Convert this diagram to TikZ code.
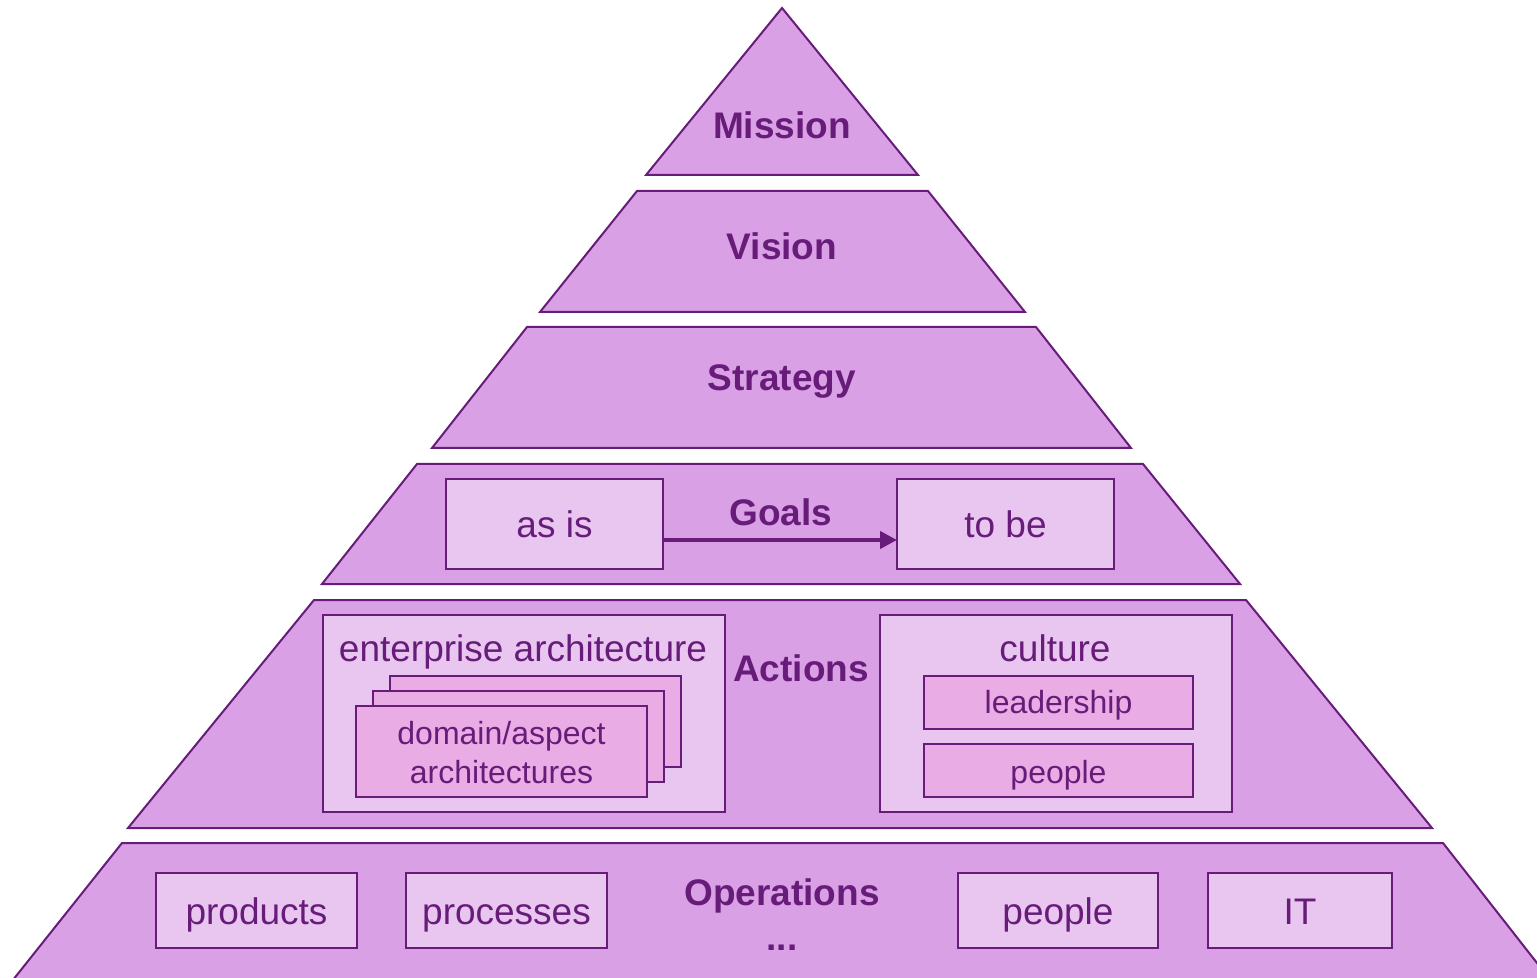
\documentclass[tikz,border=0pt]{standalone}
\usepackage{fontspec}
\setmainfont{Liberation Sans}
\usetikzlibrary{arrows.meta}
\definecolor{layerfill}{RGB}{217,160,230}
\definecolor{innerfill}{RGB}{232,198,240}
\definecolor{subfill}{RGB}{233,172,228}
\definecolor{ink}{RGB}{104,28,122}
\begin{document}
\begin{tikzpicture}[x=0.5pt,y=-0.5pt,
  layer/.style={draw=ink, fill=layerfill, line width=1pt, line join=miter},
  ibox/.style={draw=ink, fill=innerfill, line width=1pt, inner sep=0pt},
  sbox/.style={draw=ink, fill=subfill, line width=1pt, inner sep=0pt},
  title/.style={text=ink, font=\bfseries\fontsize{18.5}{22}\selectfont, anchor=base, inner sep=0pt},
  lbl/.style={text=ink, font=\fontsize{18.5}{22}\selectfont, anchor=base, inner sep=0pt},
  slbl/.style={text=ink, font=\fontsize{16}{19}\selectfont, anchor=base, inner sep=0pt}]
\useasboundingbox (0,0) rectangle (1537,978);
\clip (0,0) rectangle (1537,978);

% layers
\draw[layer] (782,8) -- (918,175) -- (646,175) -- cycle;
\draw[layer] (637,191) -- (928,191) -- (1025,312) -- (540,312) -- cycle;
\draw[layer] (527,327) -- (1036,327) -- (1131,448) -- (432,448) -- cycle;
\draw[layer] (417,464) -- (1143,464) -- (1240,584) -- (322,584) -- cycle;
\draw[layer] (314,600) -- (1246,600) -- (1432,828) -- (128,828) -- cycle;
\draw[layer] (122,843) -- (1443,843) -- (1566,1000) -- (-3,1000) -- cycle;

% titles
\node[title] (mission) at (782,139) {Mission};
\node[title] (vision) at (782,260) {Vision};
\node[title] (strategy) at (782,391) {Strategy};
\node[title] (goals) at (781,525) {Goals};
\node[title] (actions) at (801,681) {Actions};
\node[title] (operations) at (782,905) {Operations};
\node[title] (dots) at (782,950) {...};

% goals
\node[ibox, minimum width=108.5pt, minimum height=45pt] (asis) at (554.5,524) {};
\node[ibox, minimum width=108.5pt, minimum height=45pt] (tobe) at (1005.5,524) {};
\node[lbl] (asist) at (554.5,538) {as is};
\node[lbl] (tobet) at (1005.5,538) {to be};
\coordinate (aL) at (663,540);
\coordinate (aR) at (897,540);
\draw[ink, line width=2pt, -{Triangle[length=8.5pt,width=8.5pt]}] (aL) -- (aR);

% actions: enterprise architecture
\node[ibox, minimum width=201pt, minimum height=98.5pt] (ea) at (524,713.5) {};
\node[lbl] (eat) at (523,661) {enterprise architecture};
\node[sbox, minimum width=145.5pt, minimum height=45.5pt] (da3) at (535.5,721.5) {};
\node[sbox, minimum width=145.5pt, minimum height=45.5pt] (da2) at (518.5,736.5) {};
\node[sbox, minimum width=145.5pt, minimum height=45.5pt] (da1) at (501.5,751.5) {};
\node[slbl] (dat1) at (501.5,744) {domain/aspect};
\node[slbl] (dat2) at (501.5,783) {architectures};

% actions: culture
\node[ibox, minimum width=176pt, minimum height=98.5pt] (cul) at (1056,713.5) {};
\node[lbl] (cult) at (1055,661) {culture};
\node[sbox, minimum width=134.5pt, minimum height=26.5pt] (lead) at (1058.5,702.5) {};
\node[slbl] (leadt) at (1058.5,713) {leadership};
\node[sbox, minimum width=134.5pt, minimum height=26.5pt] (cpeo) at (1058.5,770.5) {};
\node[slbl] (cpeot) at (1058.5,783) {people};

% operations
\node[ibox, minimum width=100.5pt, minimum height=37.5pt] (prod) at (256.5,910.5) {};
\node[lbl] (prodt) at (256.5,924) {products};
\node[ibox, minimum width=100.5pt, minimum height=37.5pt] (proc) at (506.5,910.5) {};
\node[lbl] (proct) at (506.5,924) {processes};
\node[ibox, minimum width=100pt, minimum height=37.5pt] (opeo) at (1058,910.5) {};
\node[lbl] (opeot) at (1058,924) {people};
\node[ibox, minimum width=92pt, minimum height=37.5pt] (it) at (1300,910.5) {};
\node[lbl] (itt) at (1300,924) {IT};
\end{tikzpicture}
\end{document}
